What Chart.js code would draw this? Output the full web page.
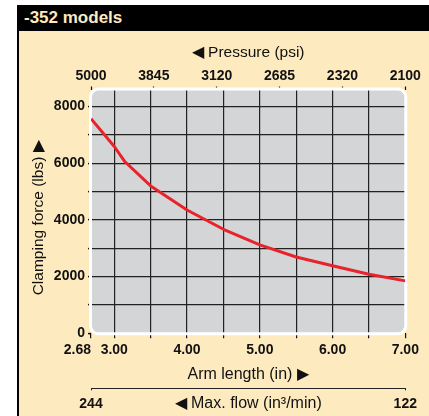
<!DOCTYPE html>
<html>
<head>
<meta charset="utf-8">
<script src="https://cdn.jsdelivr.net/npm/chart.js@4.4.1/dist/chart.umd.min.js"></script>
<style>
  html, body { margin: 0; padding: 0; background: #fff; }
  #frame {
    position: absolute; left: 17px; top: 5px; width: 412px; height: 411px;
    background: #FDEABF; border-left: 2px solid #000; box-sizing: border-box;
  }
  #head {
    height: 26px; background: #000; color: #FDEABF;
    font: bold 17px 'Liberation Sans', Arial, sans-serif; line-height: 26px;
    padding-left: 5px;
  }
  #c { position: absolute; left: 0; top: 0; }
</style>
</head>
<body>
<div id="frame"><div id="head">-352 models</div></div>
<canvas id="c" width="429" height="416"></canvas>
<script>
// Clamping force curve for the -352 models
const armLength  = [2.68, 3.00, 3.14, 3.50, 4.00, 4.50, 5.00, 5.50, 6.00, 6.50, 7.00];
const clampForce = [7570, 6590, 6070, 5200, 4350, 3670, 3120, 2690, 2380, 2080, 1850];

// Arm length axis (bottom); the first label sits left of its tick
const armTicks      = [2.68, 3.0, 3.5, 4.0, 4.5, 5.0, 5.5, 6.0, 6.5, 7.0];
const armTickLabels = ['2.68       ', '3.00', '', '4.00', '', '5.00', '', '6.00', '', '7.00'];

// Clamping force axis (left)
const forceTicks      = [0, 1000, 2000, 3000, 4000, 5000, 6000, 7000, 8000];
const forceTickLabels = ['0', '', '2000', '', '4000', '', '6000', '', '8000'];

// Pressure axis (top), evenly spaced
const pressureLabels = ['5000', '3845', '3120', '2685', '2320', '2100'];

// Max. flow axis (bottom, outer)
const flowLabels = ['244', '122'];
const flowTitle  = '\u25C0 Max. flow (in\u00B3/min)';

const SANS  = "'Liberation Sans', Arial, sans-serif";
const INK   = '#111';
const GRID  = '#222';
const CLEAR = 'rgba(0,0,0,0)';

const boldTick = { family: SANS, size: 14, weight: 'bold' };

// Grey rounded panel behind the plot, white rim drawn over the grid edges
const plotPanel = {
  id: 'plotPanel',
  beforeDraw(chart) {
    const { ctx, chartArea: a } = chart;
    ctx.save();
    ctx.beginPath();
    ctx.roundRect(a.left, a.top, a.width, a.height, 8);
    ctx.fillStyle = '#D4D5D7';
    ctx.fill();
    ctx.restore();
  },
  beforeDatasetsDraw(chart) {
    const { ctx, chartArea: a } = chart;
    ctx.save();
    ctx.beginPath();
    ctx.roundRect(a.left - 0.5, a.top - 0.5, a.width + 1, a.height + 1, 8);
    ctx.strokeStyle = '#fff';
    ctx.lineWidth = 3;
    ctx.stroke();
    ctx.restore();
  }
};

new Chart(document.getElementById('c'), {
  type: 'line',
  data: {
    datasets: [{
      data: armLength.map((x, i) => ({ x, y: clampForce[i] })),
      borderColor: '#E8232B',
      borderWidth: 3,
      pointRadius: 0,
      tension: 0,
      borderJoinStyle: 'round',
      xAxisID: 'x',
      yAxisID: 'y'
    }]
  },
  options: {
    responsive: false,
    animation: false,
    devicePixelRatio: 1,
    layout: { padding: { top: 35, left: 0, right: 23.7, bottom: 0 } },
    plugins: { legend: { display: false }, tooltip: { enabled: false } },
    scales: {
      x: {
        type: 'linear', position: 'bottom', weight: 0,
        min: armTicks[0], max: armTicks[armTicks.length - 1],
        afterBuildTicks: s => { s.ticks = armTicks.map(v => ({ value: v })); },
        afterFit: s => { s.height = 55; },
        ticks: {
          callback: (v, i) => armTickLabels[i],
          autoSkip: false, maxRotation: 0, font: boldTick, color: INK, padding: 3.6
        },
        grid: {
          color: c => (c.tick && (c.index === 0 || c.index === armTicks.length - 1)) ? CLEAR : GRID,
          lineWidth: 1.2, tickLength: 5, tickColor: INK, tickWidth: 1.2
        },
        border: { display: false },
        title: {
          display: true, text: 'Arm length (in) \u25B6', color: INK,
          font: { family: SANS, size: 16 }, padding: { top: 0, bottom: 4.5 }
        }
      },
      x3: {
        type: 'linear', position: 'bottom', weight: 1, min: 0, max: 1,
        afterBuildTicks: s => { s.ticks = [0, 0.5, 1].map(v => ({ value: v })); },
        afterFit: s => { s.height = 27.7; },
        ticks: {
          callback: (v, i) => i === 1 ? flowTitle : flowLabels[i / 2],
          autoSkip: false, maxRotation: 0, color: INK, padding: 5.2,
          font: c => c.index === 1 ? { family: SANS, size: 16, lineHeight: 1 } : boldTick
        },
        grid: {
          drawOnChartArea: false, tickLength: 2, tickWidth: 1,
          tickColor: c => c.index === 1 ? CLEAR : GRID
        },
        border: { display: true, color: GRID, width: 1 }
      },
      x2: {
        type: 'linear', position: 'top', min: 0, max: pressureLabels.length - 1,
        afterBuildTicks: s => { s.ticks = pressureLabels.map((_, i) => ({ value: i })); },
        afterFit: s => { s.height = 54.5; },
        ticks: {
          callback: (v, i) => pressureLabels[i],
          autoSkip: false, maxRotation: 0, font: boldTick, color: INK, padding: 1.5
        },
        grid: { drawOnChartArea: false, tickLength: 3, tickColor: INK, tickWidth: 1.2 },
        border: { display: false },
        title: {
          display: true, text: '\u25C0 Pressure (psi)', color: INK,
          font: { family: SANS, size: 15.5 }, padding: { top: 8.5, bottom: 0 }
        }
      },
      y: {
        type: 'linear', min: 0, max: 8600,
        afterBuildTicks: s => { s.ticks = forceTicks.map(v => ({ value: v })); },
        afterFit: s => { s.width = 91; },
        ticks: {
          callback: (v, i) => forceTickLabels[i],
          autoSkip: false, font: boldTick, color: INK, padding: 3
        },
        grid: {
          color: c => (c.tick && c.tick.value === 0) ? CLEAR : GRID,
          lineWidth: 1.2, tickLength: 3, tickColor: INK, tickWidth: 1.5
        },
        border: { display: false },
        title: {
          display: true, text: 'Clamping force (lbs) \u25B6   ', color: INK,
          font: { family: SANS, size: 15.5 }, padding: { top: 29.5, bottom: 0 }
        }
      }
    }
  },
  plugins: [plotPanel]
});
</script>
</body>
</html>
